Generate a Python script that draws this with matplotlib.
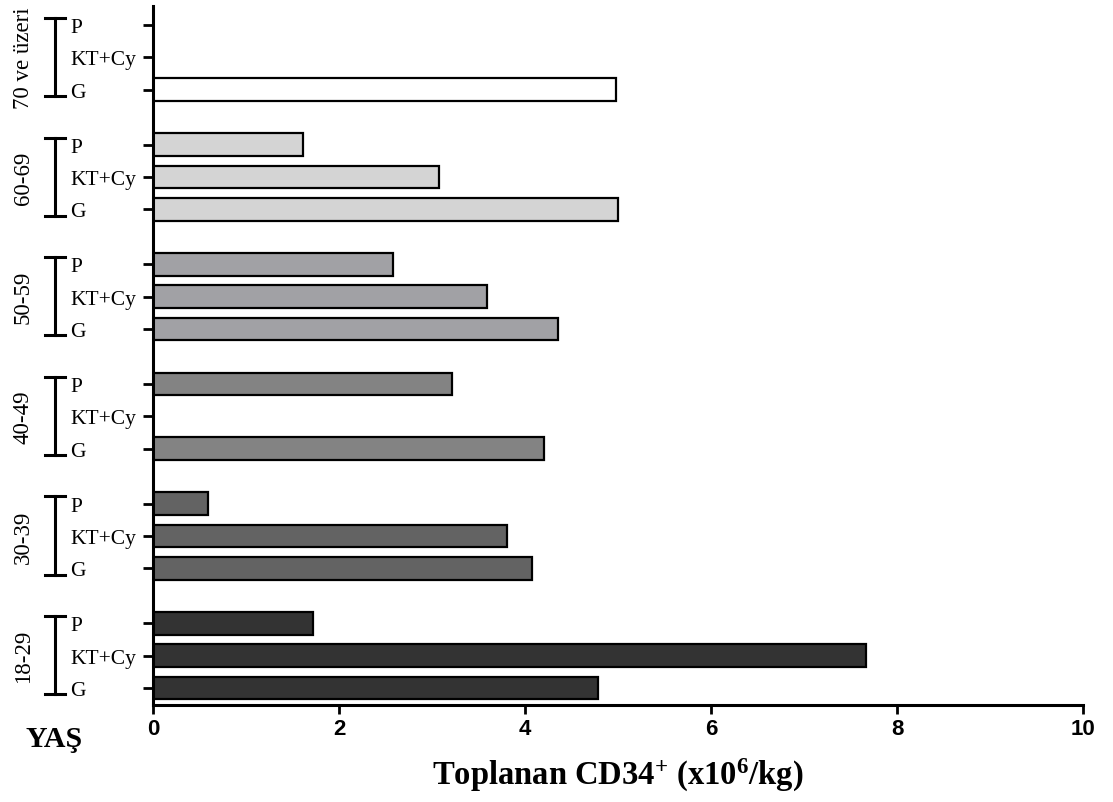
import numpy as np
import matplotlib
matplotlib.use("Agg")
from matplotlib import pyplot as plt
from matplotlib import transforms

# age groups, bottom to top
groups = ["18-29", "30-39", "40-49", "50-59", "60-69", "70 ve üzeri"]
methods = ["G", "KT+Cy", "P"]
colors = ["#333333", "#636363", "#838383", "#a1a1a5", "#d4d4d4", "#ffffff"]

g_vals = [4.78, 4.08, 4.20, 4.35, 5.00, 4.98]
kt_vals = [7.67, 3.81, np.nan, 3.59, 3.07, np.nan]
p_vals = [1.72, 0.59, 3.21, 2.58, 1.61, np.nan]

xticks = [0, 2, 4, 6, 8, 10]

plt.rcParams["mathtext.fontset"] = "custom"
plt.rcParams["mathtext.rm"] = "Liberation Serif:bold"
plt.rcParams["mathtext.bf"] = "Liberation Serif:bold"
plt.rcParams["mathtext.default"] = "bf"

period = 3.7
bar_h = 0.70

fig = plt.figure(figsize=(11.13, 8.03), dpi=100)
ax = fig.add_axes([0.1375, 0.1208, 0.8355, 0.8705])

ypos = []
ylabels = []
for i, grp in enumerate(groups):
    base = i * period
    vals = [g_vals[i], kt_vals[i], p_vals[i]]
    for j, v in enumerate(vals):
        y = base + j
        ypos.append(y)
        ylabels.append(methods[j])
        if not np.isnan(v):
            ax.barh(y, v, height=bar_h, color=colors[i],
                    edgecolor="black", linewidth=1.6)

ax.set_xlim(0, 10)
ax.set_ylim(-0.53, (len(groups) - 1) * period + 2 + 0.59)

for s in ["top", "right"]:
    ax.spines[s].set_visible(False)
for s in ["left", "bottom"]:
    ax.spines[s].set_linewidth(2.2)

ax.set_xticks(xticks)
ax.set_xticklabels([str(t) for t in xticks], fontfamily="Liberation Sans",
                   fontweight="bold", fontsize=16)
ax.tick_params(axis="x", length=6.5, width=2, pad=3)

ax.set_yticks(ypos)
ax.set_yticklabels(ylabels, fontfamily="Liberation Serif", fontsize=15.5)
ax.tick_params(axis="y", length=7, width=2, pad=52.8)
for lbl in ax.get_yticklabels():
    lbl.set_horizontalalignment("left")

ax.set_xlabel("Toplanan CD34$^{+}$ (x10$^{6}$/kg)", fontfamily="Liberation Serif",
              fontweight="bold", fontsize=23.5, labelpad=12)

# group brackets and labels
tr = transforms.blended_transform_factory(fig.transFigure, ax.transData)
for i, grp in enumerate(groups):
    top = i * period + 2 + 0.22
    bot = i * period - 0.2
    ax.plot([0.0494, 0.0494], [bot, top], color="black", lw=2.2,
            transform=tr, clip_on=False)
    for yy in (bot, top):
        ax.plot([0.0405, 0.0584], [yy, yy], color="black", lw=2.2,
                transform=tr, clip_on=False)
    ax.text(0.021, i * period + 1, grp, rotation=90, ha="center", va="center",
            fontfamily="Liberation Serif", fontsize=16.5, transform=tr)

fig.text(0.049, 1 - 740 / 803, "YAŞ", ha="center", va="center",
         fontfamily="Liberation Serif", fontweight="bold", fontsize=21.5)

fig.savefig("out.png", dpi=100)
